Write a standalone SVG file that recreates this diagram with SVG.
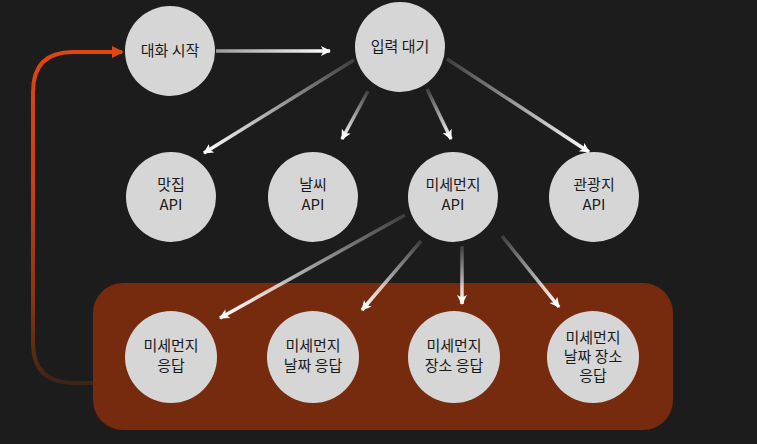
<svg xmlns="http://www.w3.org/2000/svg" width="757" height="444" viewBox="0 0 757 444">
<defs>
<style>
.node circle{fill:#d6d6d6}
.node text{font-family:"Noto Sans CJK KR","Noto Sans",sans-serif;font-size:15px;fill:#1a1a1a;text-anchor:middle}
.conn{stroke-width:3.5;fill:none;marker-end:url(#ah)}
</style>
<marker id="ah" markerUnits="userSpaceOnUse" markerWidth="12" markerHeight="12" refX="9" refY="5" orient="auto">
<path d="M0,0 L10,5 L0,10 L2.5,5 z" fill="#ffffff"/>
</marker>
<marker id="ahr" markerUnits="userSpaceOnUse" markerWidth="14" markerHeight="14" refX="10" refY="6" orient="auto">
<path d="M0,0 L12,6 L0,12 z" fill="#e0460f"/>
</marker>
<linearGradient id="loop" gradientUnits="userSpaceOnUse" x1="0" y1="383" x2="0" y2="50">
<stop offset="0" stop-color="#3e2418"/>
<stop offset="0.25" stop-color="#8a3512"/>
<stop offset="0.6" stop-color="#c8410f"/>
<stop offset="1" stop-color="#e0460f"/>
</linearGradient>
<linearGradient id="g0" gradientUnits="userSpaceOnUse" x1="216" y1="51" x2="330" y2="51"><stop offset="0" stop-color="#9a9a9a"/><stop offset="1" stop-color="#ffffff"/></linearGradient>
<linearGradient id="g1" gradientUnits="userSpaceOnUse" x1="354" y1="60" x2="204" y2="153"><stop offset="0" stop-color="#ffffff" stop-opacity="0.15"/><stop offset="1" stop-color="#ffffff"/></linearGradient>
<linearGradient id="g2" gradientUnits="userSpaceOnUse" x1="368" y1="91" x2="342" y2="139"><stop offset="0" stop-color="#ffffff" stop-opacity="0.15"/><stop offset="1" stop-color="#ffffff"/></linearGradient>
<linearGradient id="g3" gradientUnits="userSpaceOnUse" x1="427" y1="89" x2="451" y2="139"><stop offset="0" stop-color="#ffffff" stop-opacity="0.15"/><stop offset="1" stop-color="#ffffff"/></linearGradient>
<linearGradient id="g4" gradientUnits="userSpaceOnUse" x1="447" y1="59" x2="589" y2="152"><stop offset="0" stop-color="#ffffff" stop-opacity="0.15"/><stop offset="1" stop-color="#ffffff"/></linearGradient>
<linearGradient id="g5" gradientUnits="userSpaceOnUse" x1="405" y1="215" x2="220" y2="318"><stop offset="0" stop-color="#ffffff" stop-opacity="0.15"/><stop offset="1" stop-color="#ffffff"/></linearGradient>
<linearGradient id="g6" gradientUnits="userSpaceOnUse" x1="421" y1="241" x2="362" y2="310"><stop offset="0" stop-color="#ffffff" stop-opacity="0.15"/><stop offset="1" stop-color="#ffffff"/></linearGradient>
<linearGradient id="g7" gradientUnits="userSpaceOnUse" x1="462" y1="246" x2="462" y2="304"><stop offset="0" stop-color="#ffffff" stop-opacity="0.15"/><stop offset="1" stop-color="#ffffff"/></linearGradient>
<linearGradient id="g8" gradientUnits="userSpaceOnUse" x1="502" y1="236" x2="559" y2="307"><stop offset="0" stop-color="#ffffff" stop-opacity="0.15"/><stop offset="1" stop-color="#ffffff"/></linearGradient>
</defs>
<rect width="757" height="444" fill="#1c1c1c"/>
<rect id="response-area" x="93" y="283" width="580" height="147" rx="30" fill="#772b0e"/>
<g id="connectors">
<path d="M93,383 L75,383 Q33,383 33,343 L33,92 Q33,52 73,52 L122,52" stroke="url(#loop)" stroke-width="4" fill="none" marker-end="url(#ahr)"/>
<line class="conn" x1="216" y1="51" x2="330" y2="51" stroke="url(#g0)"/>
<line class="conn" x1="354" y1="60" x2="204" y2="153" stroke="url(#g1)"/>
<line class="conn" x1="368" y1="91" x2="342" y2="139" stroke="url(#g2)"/>
<line class="conn" x1="427" y1="89" x2="451" y2="139" stroke="url(#g3)"/>
<line class="conn" x1="447" y1="59" x2="589" y2="152" stroke="url(#g4)"/>
<line class="conn" x1="405" y1="215" x2="220" y2="318" stroke="url(#g5)"/>
<line class="conn" x1="421" y1="241" x2="362" y2="310" stroke="url(#g6)"/>
<line class="conn" x1="462" y1="246" x2="462" y2="304" stroke="url(#g7)"/>
<line class="conn" x1="502" y1="236" x2="559" y2="307" stroke="url(#g8)"/>
</g>
<g id="start" class="node"><circle cx="170" cy="51" r="45"/><text x="170" y="56">대화 시작</text></g>
<g id="wait" class="node"><circle cx="400" cy="47" r="45"/><text x="400" y="52">입력 대기</text></g>
<g id="api-food" class="node"><circle cx="171" cy="197" r="45"/><text x="171" y="190">맛집</text><text x="171" y="210">API</text></g>
<g id="api-weather" class="node"><circle cx="313" cy="197" r="45"/><text x="313" y="190">날씨</text><text x="313" y="210">API</text></g>
<g id="api-dust" class="node"><circle cx="453" cy="197" r="45"/><text x="453" y="190">미세먼지</text><text x="453" y="210">API</text></g>
<g id="api-tour" class="node"><circle cx="594" cy="197" r="45"/><text x="594" y="190">관광지</text><text x="594" y="210">API</text></g>
<g id="resp1" class="node"><circle cx="171" cy="357" r="46"/><text x="171" y="351">미세먼지</text><text x="171" y="371">응답</text></g>
<g id="resp2" class="node"><circle cx="313" cy="357" r="46"/><text x="313" y="351">미세먼지</text><text x="313" y="371">날짜 응답</text></g>
<g id="resp3" class="node"><circle cx="454" cy="357" r="46"/><text x="454" y="351">미세먼지</text><text x="454" y="371">장소 응답</text></g>
<g id="resp4" class="node"><circle cx="593" cy="357" r="46"/><text x="593" y="343">미세먼지</text><text x="593" y="362">날짜 장소</text><text x="593" y="381">응답</text></g>
</svg>
